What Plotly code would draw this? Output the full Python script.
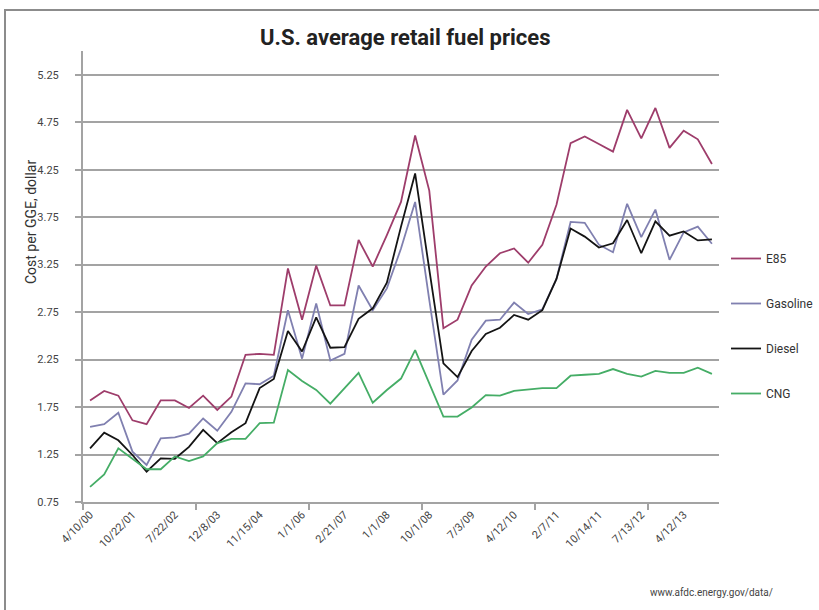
import plotly.graph_objects as go

# Price series, one value per observation date (cost per gasoline gallon equivalent)
e85 = [1.82, 1.92, 1.87, 1.61, 1.57, 1.82, 1.82, 1.74, 1.87, 1.72, 1.86, 2.30, 2.31, 2.30, 3.21,
       2.67, 3.24, 2.82, 2.82, 3.51, 3.23, 3.56, 3.91, 4.61, 4.03, 2.58, 2.67, 3.03, 3.23, 3.37,
       3.42, 3.27, 3.46, 3.88, 4.53, 4.60, 4.52, 4.44, 4.88, 4.58, 4.90, 4.48, 4.66, 4.57, 4.31]
gasoline = [1.54, 1.57, 1.69, 1.28, 1.14, 1.42, 1.43, 1.47, 1.63, 1.50, 1.70, 2.00, 1.99, 2.08, 2.77,
            2.26, 2.84, 2.24, 2.31, 3.03, 2.77, 3.00, 3.42, 3.91, 2.88, 1.88, 2.03, 2.46, 2.66, 2.67,
            2.85, 2.73, 2.78, 3.10, 3.70, 3.69, 3.46, 3.38, 3.89, 3.54, 3.83, 3.30, 3.59, 3.65, 3.47]
diesel = [1.315, 1.48, 1.40, 1.245, 1.07, 1.21, 1.205, 1.33, 1.51, 1.37, 1.485, 1.58, 1.95, 2.045, 2.55,
          2.335, 2.695, 2.375, 2.38, 2.68, 2.79, 3.06, 3.65, 4.21, 3.20, 2.21, 2.065, 2.34, 2.52, 2.585,
          2.72, 2.67, 2.77, 3.10, 3.63, 3.545, 3.43, 3.475, 3.72, 3.37, 3.705, 3.555, 3.60, 3.505, 3.515]
cng = [0.91, 1.04, 1.315, 1.20, 1.095, 1.095, 1.23, 1.18, 1.23, 1.37, 1.415, 1.415, 1.58, 1.585, 2.14,
       2.025, 1.93, 1.785, 1.95, 2.11, 1.795, 1.93, 2.05, 2.35, 2.00, 1.65, 1.65, 1.745, 1.876, 1.87,
       1.92, 1.935, 1.95, 1.95, 2.08, 2.09, 2.10, 2.15, 2.10, 2.07, 2.13, 2.11, 2.11, 2.165, 2.10]

# Date labels shown on every third observation
date_labels = ["4/10/00", "10/22/01", "7/22/02", "12/8/03", "11/15/04", "1/1/06", "2/21/07",
               "1/1/08", "10/1/08", "7/3/09", "4/12/10", "2/7/11", "10/14/11", "7/13/12", "4/12/13"]
label_step = 3
tick_step = 8

y_ticks = [0.75, 1.25, 1.75, 2.25, 2.75, 3.25, 3.75, 4.25, 4.75, 5.25]

series = [
    ("E85", e85, "#9e3d6b"),
    ("Gasoline", gasoline, "#8080b0"),
    ("Diesel", diesel, "#141414"),
    ("CNG", cng, "#45ad66"),
]

n = len(e85)
idx = list(range(n))

fig = go.Figure()
for rank, (name, vals, color) in enumerate(series):
    fig.add_trace(go.Scatter(
        x=idx, y=vals, name=name, mode="lines",
        line=dict(color=color, width=1.8),
        legendgroup=name, legendrank=rank + 1,
    ))

W, H = 819, 610
ml, mr, mt, mb = 83, 100, 51, 108
pw, ph = W - ml - mr, H - mt - mb


def px(x):
    return (x - ml) / pw


def py(y):
    return (H - mb - y) / ph


grid = "#a3a3a3"
label_font = dict(family="Roboto, Open Sans, sans-serif", size=11, color="#444444")

fig.update_layout(
    width=W, height=H,
    margin=dict(l=ml, r=mr, t=mt, b=mb, autoexpand=False),
    paper_bgcolor="white", plot_bgcolor="white",
    showlegend=True,
    legend=dict(
        x=px(726), y=py(244), xanchor="left", yanchor="top",
        font=dict(family="Roboto, Open Sans, sans-serif", size=12, color="#333333"),
        tracegroupgap=26, itemwidth=30, bgcolor="rgba(0,0,0,0)",
    ),
    xaxis=dict(
        range=[-0.5, n - 0.5],
        tickmode="array",
        tickvals=[i for i in idx if i % label_step == 0],
        ticktext=date_labels,
        tickangle=-45,
        ticks="",
        tickfont=label_font,
        showgrid=False, zeroline=False,
        showline=True, linecolor=grid, linewidth=2,
        minor=dict(
            tickmode="array",
            tickvals=[k - 0.5 for k in range(0, n, tick_step)],
            ticks="outside", ticklen=6, tickwidth=2, tickcolor=grid, showgrid=False,
        ),
    ),
    yaxis=dict(
        range=[0.75, 5.5],
        tickmode="array",
        tickvals=y_ticks,
        ticktext=[f"{v:.2f}" for v in y_ticks],
        ticks="outside", ticklen=6, tickwidth=2, tickcolor=grid,
        ticklabelstandoff=14,
        tickfont=label_font,
        showgrid=True, gridcolor=grid, gridwidth=2,
        zeroline=False,
        showline=True, linecolor=grid, linewidth=2,
    ),
)

# Frame around the graphic
fig.add_shape(type="rect", xref="paper", yref="paper",
              x0=px(5), y0=py(640), x1=px(850), y1=py(10),
              line=dict(color="#8c8c8c", width=2), fillcolor="rgba(0,0,0,0)", layer="below")

fig.add_annotation(
    text="<b>U.S. average retail fuel prices</b>",
    x=px(405), y=py(37), xref="paper", yref="paper",
    xanchor="center", yanchor="middle", showarrow=False,
    font=dict(family="Roboto, Open Sans, sans-serif", size=22, color="#222222"),
)
fig.add_annotation(
    text="Cost per GGE, dollar",
    x=px(31), y=py(222), xref="paper", yref="paper",
    xanchor="center", yanchor="middle", showarrow=False, textangle=-90,
    font=dict(family="Roboto, Open Sans, sans-serif", size=14, color="#333333"),
)
fig.add_annotation(
    text="www.afdc.energy.gov/data/",
    x=px(648), y=py(592), xref="paper", yref="paper",
    xanchor="left", yanchor="middle", showarrow=False,
    font=dict(family="Roboto, Open Sans, sans-serif", size=10, color="#444444"),
)

fig.write_html("out.html")
